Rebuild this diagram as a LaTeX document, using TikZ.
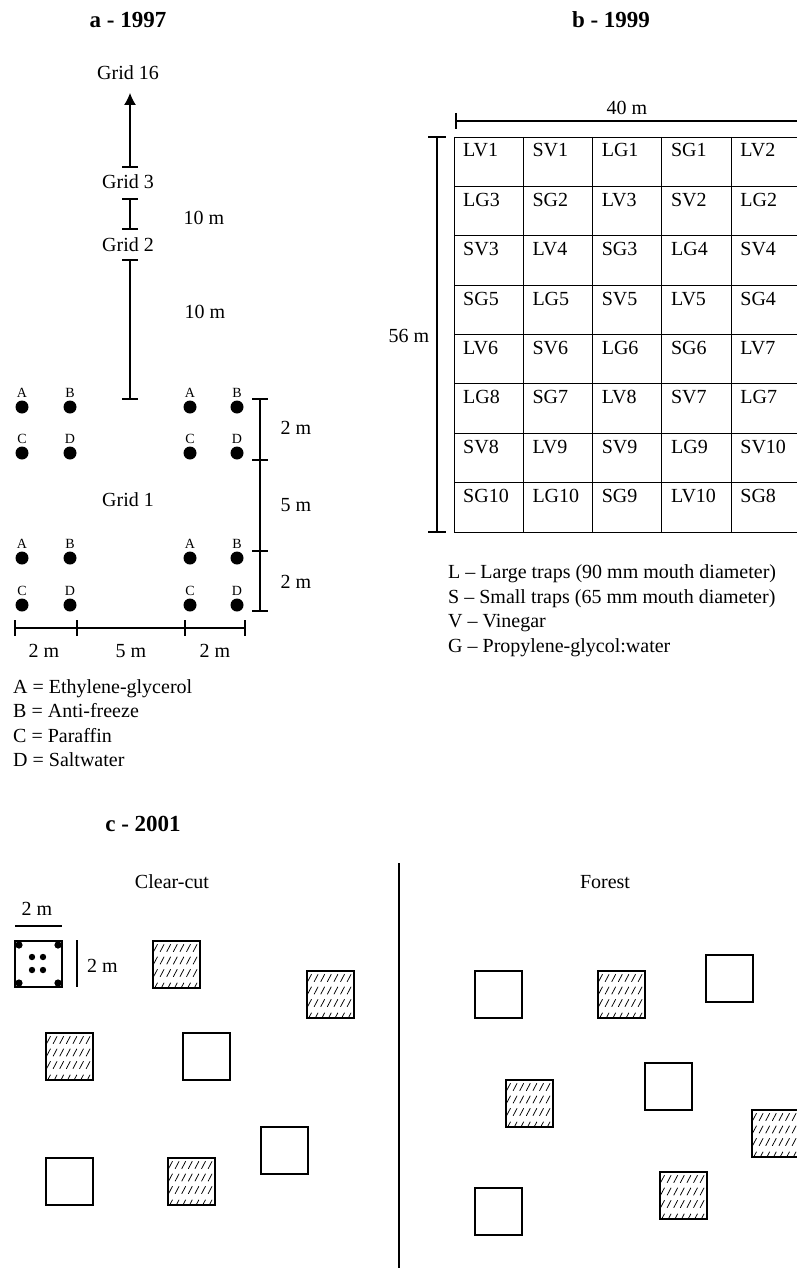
\documentclass[tikz,border=0pt]{standalone}
\usepackage{fontspec}
\setmainfont{Liberation Serif}
\usetikzlibrary{arrows.meta}
\tikzset{
  txt/.style={font=\fontsize{20}{24}\selectfont, inner sep=0pt, anchor=base},
  ttl/.style={font=\fontsize{23}{27}\selectfont\bfseries, inner sep=0pt, anchor=base},
  smalllab/.style={font=\fontsize{14}{16}\selectfont, inner sep=0pt, anchor=base},
  legtxt/.style={txt, anchor=base west},
  ln/.style={line width=1.1pt},
  thin/.style={line width=0.9pt},
  sq/.style={draw, line width=1.3pt},
  hatchsq/.pic={
    \begin{scope}
      \clip (0,0) rectangle (47,47);
      \foreach \r in {7,19.5,32,45.5}
        \foreach \k in {0,...,7}
          \draw[line width=0.75pt] ({0.5+\k*6.6},{\r+3.8}) -- ({4.5+\k*6.6},{\r-3.8});
    \end{scope}
    \draw[sq] (0,0) rectangle (47,47);
  },
  emptysq/.pic={
    \draw[sq] (0,0) rectangle (47,47);
  }
}
\begin{document}
\begin{tikzpicture}[x=1pt,y=-1pt]
\clip (0,0) rectangle (797,1268);
\fill[white] (0,0) rectangle (797,1268);

% ---------------- panel a ----------------
\node[ttl] (ta) at (128,28) {a - 1997};
\node[txt] (g16) at (128,80) {Grid 16};
\node[txt] (g3) at (128,189) {Grid 3};
\node[txt] (g2) at (128,251) {Grid 2};
\node[txt] (d10a) at (204,224) {10 m};
\node[txt] (d10b) at (205,318) {10 m};
\node[txt] (g1) at (128,506) {Grid 1};

\coordinate (ta1) at (130,167);
\coordinate (tip) at (130,93);
\draw[ln,-{Latex[length=12pt,width=12pt]}] (ta1) -- (tip);
\draw[ln] (122,167) -- (138,167);
\draw[ln] (122,199) -- (138,199);
\draw[ln] (130,199) -- (130,229);
\draw[ln] (122,229) -- (138,229);
\draw[ln] (122,260) -- (138,260);
\draw[ln] (130,260) -- (130,399);
\draw[ln] (122,399) -- (138,399);

% dots
\foreach \x/\la/\lb in {22/A/C,70/B/D,190/A/C,237/B/D}{
  \foreach \ya/\yb in {407/453,558/605}{
    \fill (\x,\ya) circle (6.5);
    \fill (\x,\yb) circle (6.5);
    \node[smalllab] at (\x,{\ya-10}) {\la};
    \node[smalllab] at (\x,{\yb-10}) {\lb};
  }
}

% right dimension
\draw[ln] (260,399) -- (260,611);
\foreach \y in {399,460,551,611} \draw[ln] (252,\y) -- (268,\y);
\node[txt] (r2a) at (296,434) {2 m};
\node[txt] (r5) at (296,511) {5 m};
\node[txt] (r2b) at (296,588) {2 m};

% bottom dimension
\draw[ln] (15,628) -- (245,628);
\foreach \x in {15,77,185,245} \draw[ln] (\x,620) -- (\x,636);
\node[txt] (b2a) at (44,657) {2 m};
\node[txt] (b5) at (131,657) {5 m};
\node[txt] (b2b) at (215,657) {2 m};

\node[legtxt] (la) at (13,693) {A = Ethylene-glycerol};
\node[legtxt] (lb) at (13,717) {B = Anti-freeze};
\node[legtxt] (lc) at (13,742) {C = Paraffin};
\node[legtxt] (ld) at (13,766) {D = Saltwater};

% ---------------- panel b ----------------
\node[ttl] (tb) at (611,28) {b - 1999};
\node[txt] (d40) at (627,115) {40 m};
\draw[ln] (456,121) -- (805,121);
\draw[ln] (456,113) -- (456,129);
\draw[ln] (437,137) -- (437,532);
\draw[ln] (428,137) -- (446,137);
\draw[ln] (428,532) -- (446,532);
\node[txt] (d56) at (409,342) {56 m};

\foreach \i in {0,...,5} \draw[thin] ({454+\i*69.3},137) -- ({454+\i*69.3},532);
\foreach \j in {0,...,8} \draw[thin] (454,{137+\j*49.375}) -- (801,{137+\j*49.375});

\foreach [count=\j from 0] \row in {
  {LV1,SV1,LG1,SG1,LV2},
  {LG3,SG2,LV3,SV2,LG2},
  {SV3,LV4,SG3,LG4,SV4},
  {SG5,LG5,SV5,LV5,SG4},
  {LV6,SV6,LG6,SG6,LV7},
  {LG8,SG7,LV8,SV7,LG7},
  {SV8,LV9,SV9,LG9,SV10},
  {SG10,LG10,SG9,LV10,SG8}}{
  \foreach [count=\i from 0] \lab in \row {
    \node[legtxt] (c-\i-\j) at ({454+\i*69.3+9},{137+\j*49.375+20}) {\lab};
  }
}

\node[legtxt] (l1) at (448,578) {L -- Large traps (90 mm mouth diameter)};
\node[legtxt] (l2) at (448,603) {S -- Small traps (65 mm mouth diameter)};
\node[legtxt] (l3) at (448,627) {V -- Vinegar};
\node[legtxt] (l4) at (448,652) {G -- Propylene-glycol:water};

% ---------------- panel c ----------------
\node[ttl] (tc) at (143,831) {c - 2001};
\draw[ln] (399,863) -- (399,1270);
\node[txt] (cc) at (172,888) {Clear-cut};
\node[txt] (fo) at (605,888) {Forest};

\node[txt] (s2a) at (37,915) {2 m};
\draw[ln] (15,926) -- (62,926);
\draw[sq] (15,941) rectangle (62,987);
\foreach \x/\y in {19/945,58/945,19/983,58/983} \fill (\x,\y) circle (3.6);
\foreach \x/\y in {32/957,43/957,32/970,43/970} \fill (\x,\y) circle (3.2);
\draw[ln] (77,940) -- (77,987);
\node[legtxt] (s2b) at (87,972) {2 m};

% clear-cut plots
\pic at (153,941) {hatchsq};
\pic at (307,971) {hatchsq};
\pic at (46,1033) {hatchsq};
\pic at (183,1033) {emptysq};
\pic at (261,1127) {emptysq};
\pic at (46,1158) {emptysq};
\pic at (168,1158) {hatchsq};

% forest plots
\pic at (475,971) {emptysq};
\pic at (598,971) {hatchsq};
\pic at (706,955) {emptysq};
\pic at (506,1080) {hatchsq};
\pic at (645,1063) {emptysq};
\pic at (752,1110) {hatchsq};
\pic at (475,1188) {emptysq};
\pic at (660,1172) {hatchsq};
\end{tikzpicture}
\end{document}
